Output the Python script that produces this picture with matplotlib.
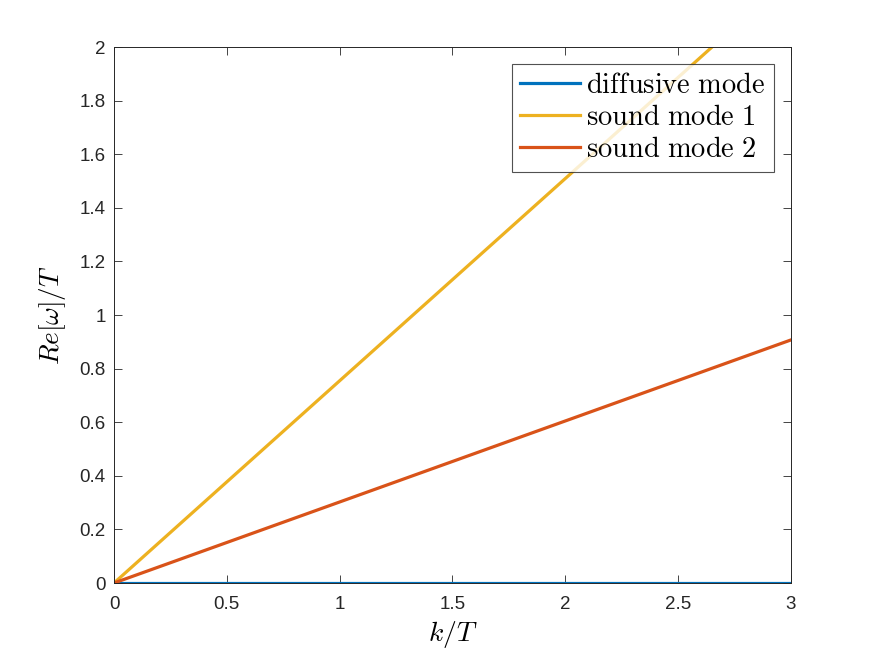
import matplotlib
matplotlib.use("Agg")
import matplotlib.pyplot as plt

k = [0.0, 3.0]
diffusive = [0.0, 0.0]
sound1 = [0.0, 2.264]
sound2 = [0.0, 0.907]
labels = ["diffusive mode", "sound mode 1", "sound mode 2"]
xticks = [0, 0.5, 1, 1.5, 2, 2.5, 3]
yticks = [0, 0.2, 0.4, 0.6, 0.8, 1, 1.2, 1.4, 1.6, 1.8, 2]

plt.rcParams['mathtext.fontset'] = 'cm'
plt.rcParams['font.family'] = ['Liberation Sans', 'DejaVu Sans']

fig = plt.figure(figsize=(8.75, 6.56), dpi=100)
ax = fig.add_axes([114/875, 73/656, 677/875, 536/656])

ax.plot(k, diffusive, color='#0072BD', lw=2.3, label=r'$\mathrm{diffusive\ mode}$')
ax.plot(k, sound1, color='#EDB120', lw=2.3, label=r'$\mathrm{sound\ mode\ 1}$')
ax.plot(k, sound2, color='#D95319', lw=2.3, label=r'$\mathrm{sound\ mode\ 2}$')

ax.set_xlim(0, 3)
ax.set_ylim(0, 2)
ax.set_xticks(xticks)
ax.set_xticklabels([f"{t:g}" for t in xticks])
ax.set_yticks(yticks)
ax.set_yticklabels([f"{t:g}" for t in yticks])
ax.tick_params(direction='in', top=True, right=True, labelsize=13.5, colors='#262626', length=6, width=0.6)
ax.tick_params(axis='y', pad=6)
ax.tick_params(axis='x', pad=9.5)
for s in ax.spines.values():
    s.set_linewidth(0.7)
    s.set_color('#262626')

ax.set_xlabel(r'$k/T$', fontsize=20, labelpad=4)
ax.set_ylabel(r'$Re[\omega]/T$', fontsize=19.5, labelpad=8)

leg = ax.legend(loc='upper right', fontsize=20.5, frameon=True, fancybox=False,
                edgecolor='#262626', handlelength=2.1, handletextpad=0.2,
                borderpad=0.3, labelspacing=0.22, borderaxespad=0.6)
leg.get_frame().set_linewidth(0.8)

fig.savefig('out.png', dpi=100)
